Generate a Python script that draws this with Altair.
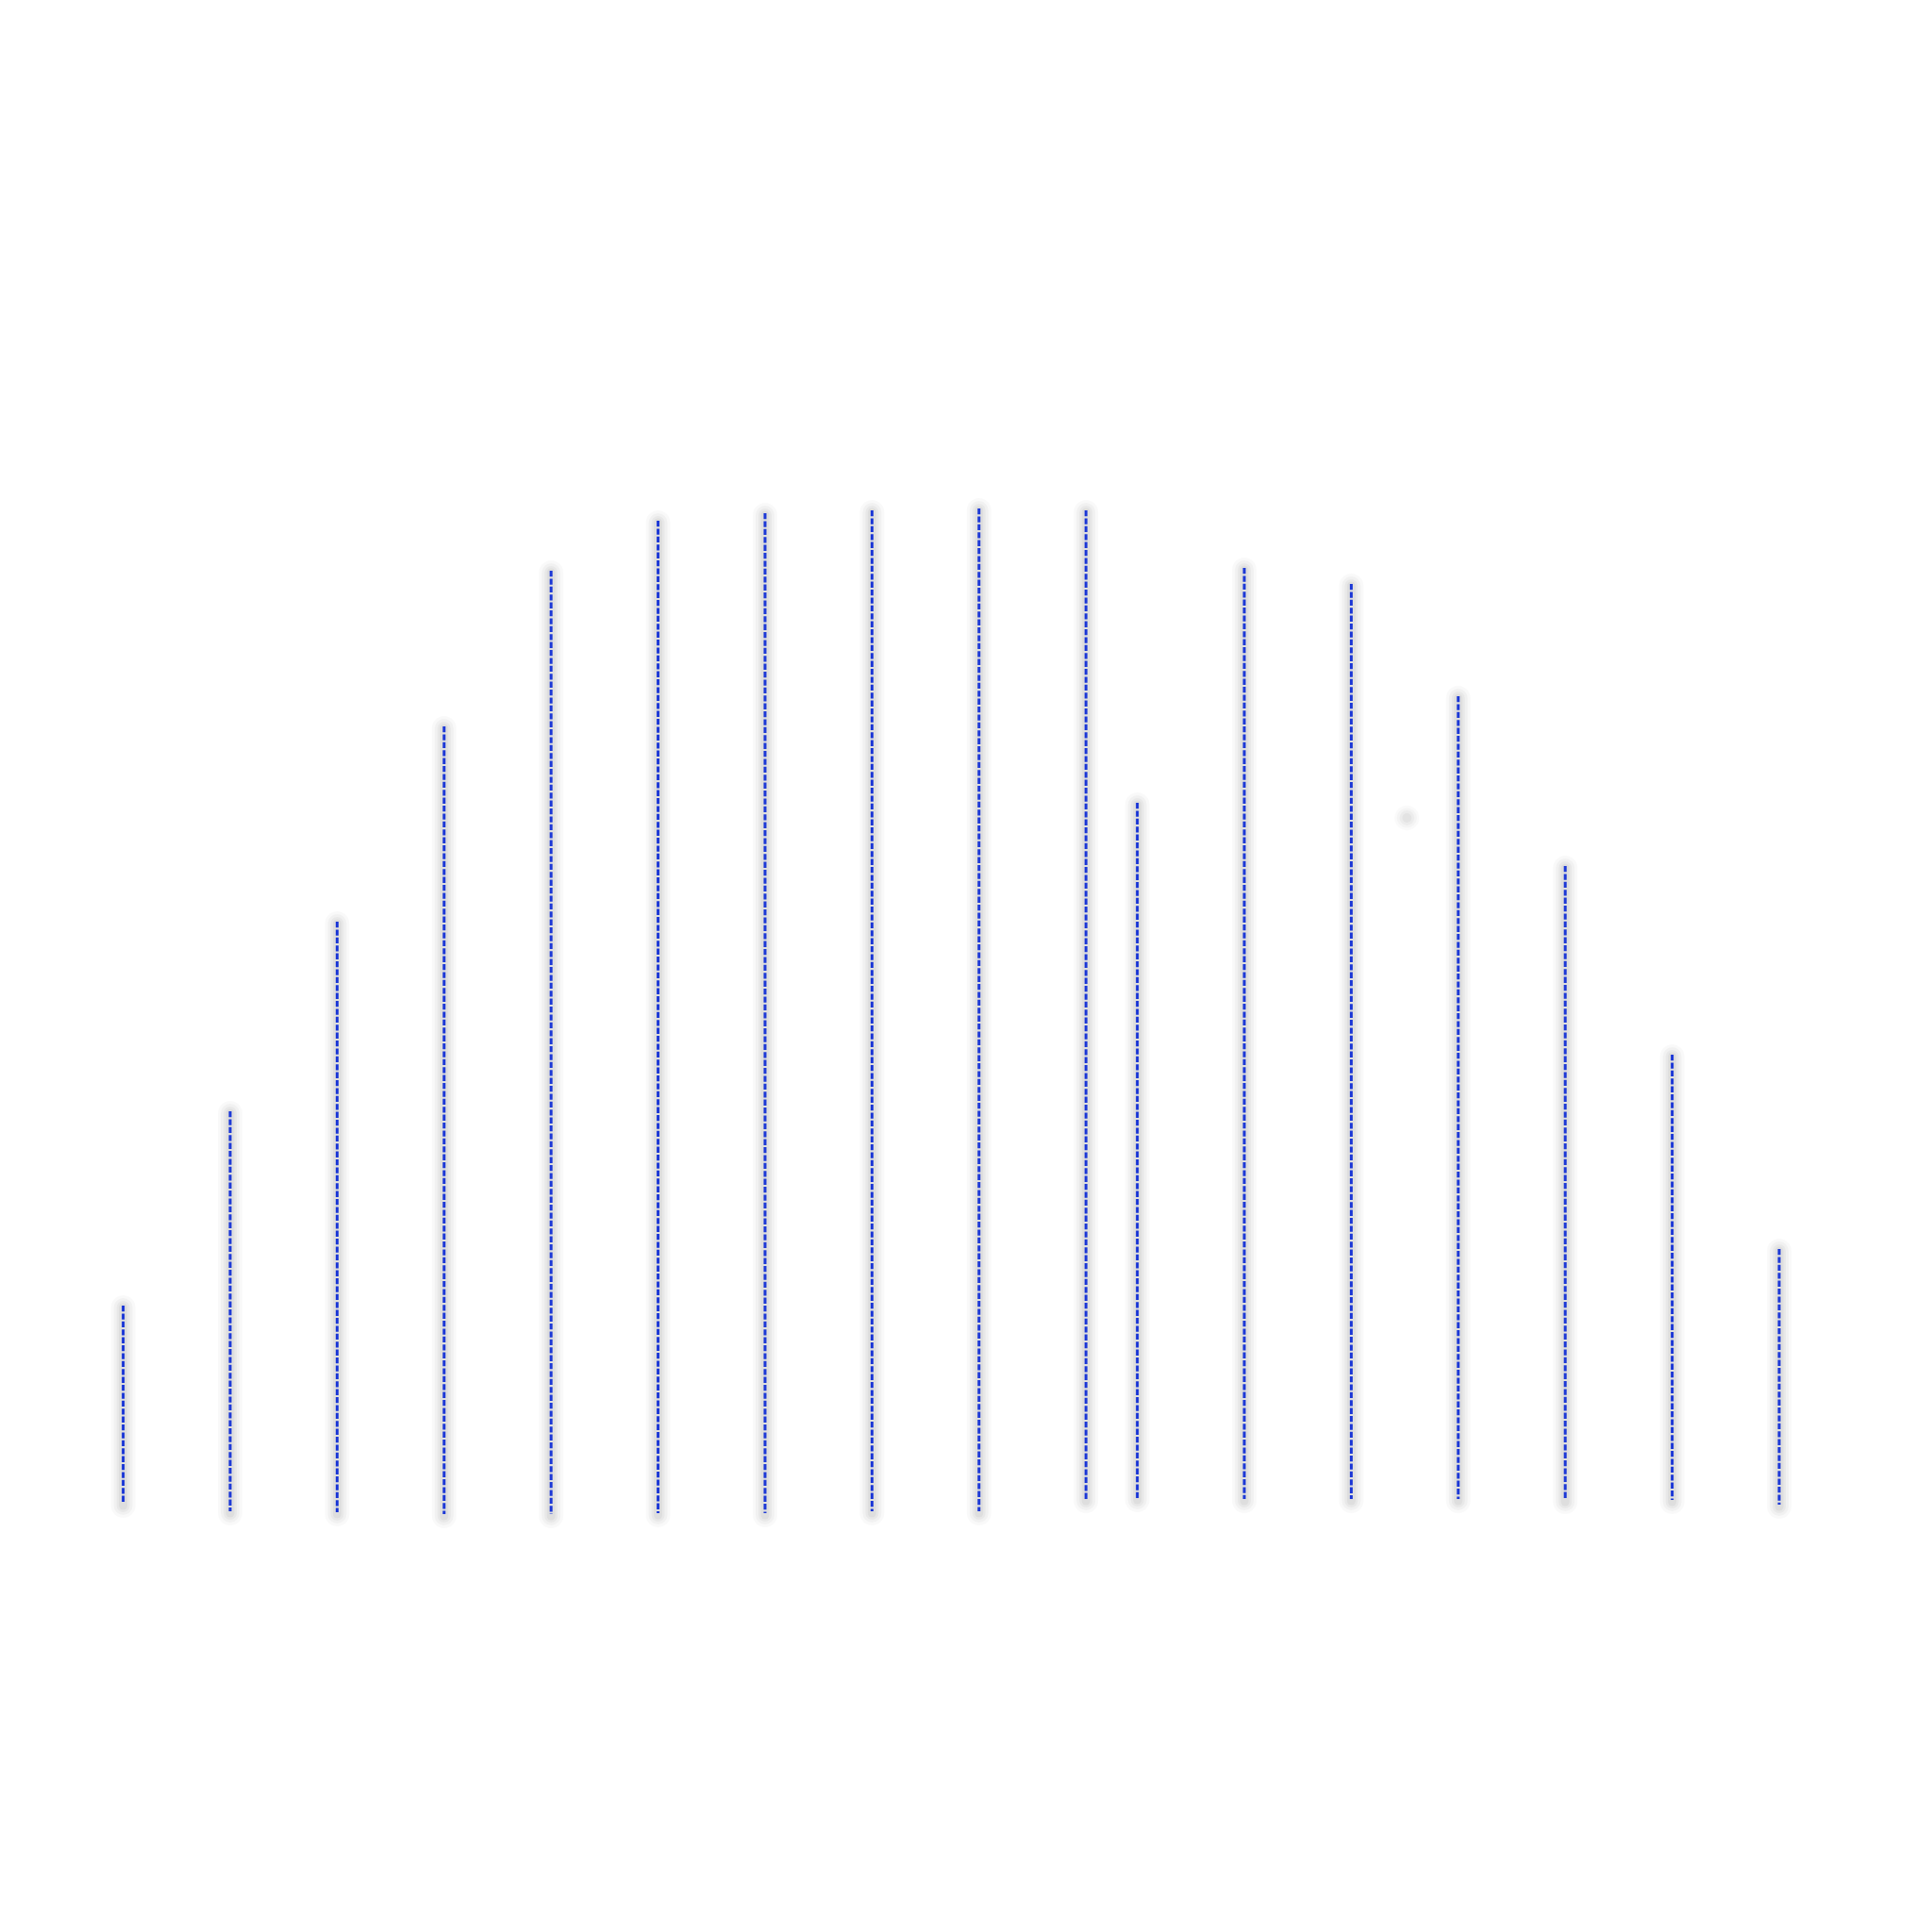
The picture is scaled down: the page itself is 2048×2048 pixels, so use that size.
import altair as alt
import pandas as pd

# positions of the vertical segments (x) and their top / bottom values
xs = [0, 1, 2, 3, 4, 5, 6, 7, 8, 9, 9.48, 10.48, 11.48, 12.48, 13.48, 14.48, 15.48]
tops = [22.4, 43.0, 63.1, 83.8, 100.3, 105.6, 106.4, 106.7, 106.9, 106.7,
        75.7, 100.6, 98.9, 87.0, 69.0, 49.0, 28.4]
bottoms = [1.4, 0.6, 0.5, 0.3, 0.3, 0.4, 0.4, 0.6, 0.6, 1.9,
           2.0, 1.9, 1.9, 1.9, 1.8, 1.8, 1.3]

# faint hidden point (only its shadow shows)
blob_x = [12.0]
blob_y = [74.1]

df = pd.DataFrame({"x": xs, "top": tops, "bottom": bottoms})
dfp = pd.DataFrame({"x": blob_x, "y": blob_y})

xsc = alt.Scale(domain=[-1.081, 16.838], nice=False, zero=False)
ysc = alt.Scale(domain=[-40, 160], nice=False, zero=False)

X = alt.X("x:Q", scale=xsc, axis=None)
Y = alt.Y("top:Q", scale=ysc, axis=None)
Y2 = alt.Y2("bottom:Q")

base = alt.Chart(df)

shadows = []
for w, op in [(26, 0.025), (20, 0.03), (14, 0.035), (9, 0.04)]:
    shadows.append(
        base.mark_rule(color="#000000", strokeWidth=w, opacity=op,
                       strokeCap="round", yOffset=2, y2Offset=2)
        .encode(x=X, y=Y, y2=Y2)
    )

blob_layers = []
for s, op in [(700, 0.02), (450, 0.025), (250, 0.03), (100, 0.035)]:
    blob_layers.append(
        alt.Chart(dfp).mark_circle(color="#000000", opacity=op, size=s)
        .encode(x=alt.X("x:Q", scale=xsc, axis=None),
                y=alt.Y("y:Q", scale=ysc, axis=None))
    )

lines = base.mark_rule(color="#1c38d6", strokeWidth=3,
                       strokeDash=[6.3, 2.1]).encode(x=X, y=Y, y2=Y2)

chart = alt.layer(*shadows, *blob_layers, lines).properties(
    width=2032, height=2000, padding=0, background="white"
).configure_view(stroke=None)

chart.save("out.html", embed_options={"renderer": "svg", "actions": False})
